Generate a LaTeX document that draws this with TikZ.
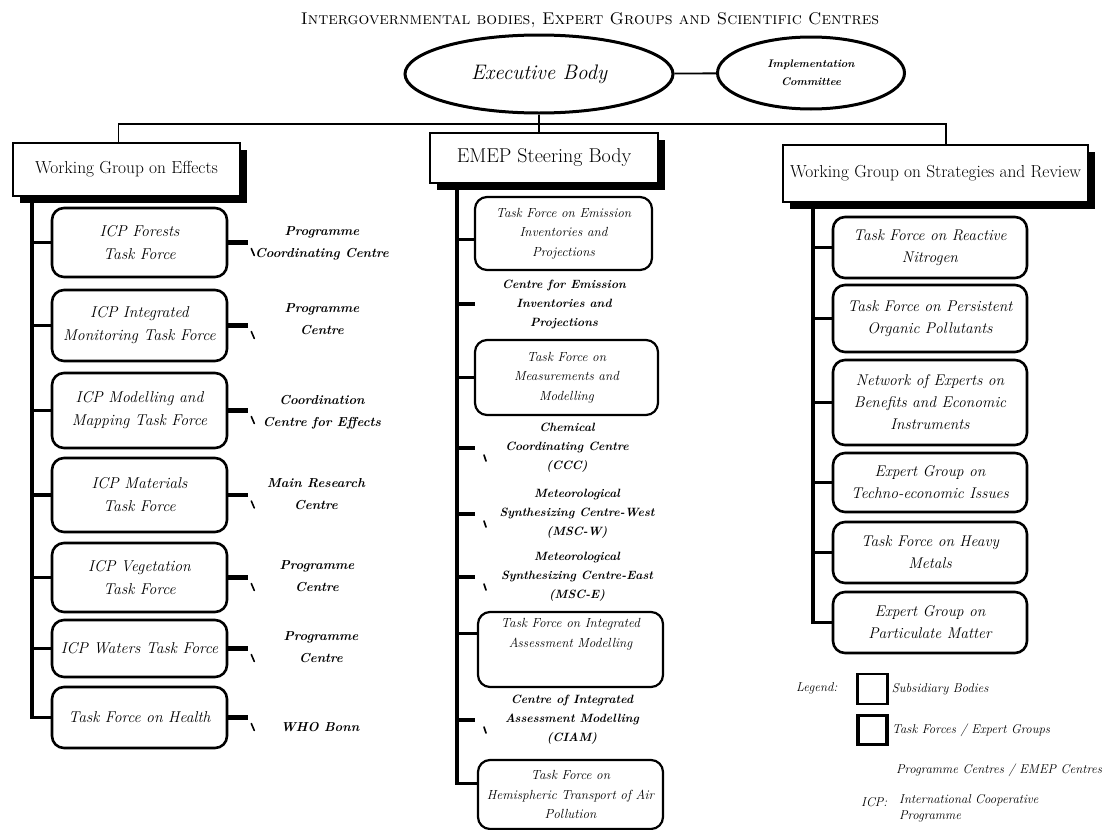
\documentclass[tikz,border=0pt]{standalone}
\usepackage{fontspec}
\usetikzlibrary{positioning, shapes.geometric, shadows}

\begin{document}
\begin{tikzpicture}[x = 1pt, y = -1pt,
		every node/.style = {
			inner sep = 1pt,
			align = center
		},
		body/.style = {
			draw = black,
			ellipse,
			line width = 3pt,
			inner sep = 0pt
		},
		group/.style = {
			draw = black,
			fill = white,
			line width = 2.4pt,
			font = \fontsize{17.4}{20}\selectfont,
			drop shadow = {shadow xshift = 7pt, shadow yshift = -7pt, fill = black, opacity = 1}
		},
		task/.style = {
			draw = black,
			fill = white,
			line width = 2.6pt,
			rounded corners = 12pt,
			minimum height = #1
		},
		ltask/.style = {task = #1, minimum width = 175pt, font = \itshape\fontsize{15.7}{23}\selectfont},
		mtask/.style = {task = #1, line width = 2.2pt, font = \itshape\fontsize{13.2}{19.5}\selectfont},
		rtask/.style = {task = #1, minimum width = 194pt, font = \itshape\fontsize{15.5}{22}\selectfont},
		lcentre/.style = {font = \bfseries\itshape\fontsize{13}{22}\selectfont},
		mcentre/.style = {font = \bfseries\itshape\fontsize{12}{19}\selectfont},
		legtext/.style = {font = \itshape\fontsize{12.8}{16}\selectfont, align = left},
		topline/.style = {line width = 1.8pt},
		trunk/.style = {line width = 3.6pt},
		stub/.style = {line width = 4.6pt},
		tick/.style = {line width = 1.6pt, line cap = round}
	]
	\useasboundingbox (0, 0) rectangle (1109, 830);
	\node[font = \scshape\fontsize{17}{19}\selectfont] (title) at (590, 20) {Intergovernmental bodies, Expert Groups and Scientific Centres};
	\node[body, minimum width = 268pt, minimum height = 78pt, font = \itshape\fontsize{21}{24}\selectfont] (exec) at (539, 74) {Executive Body};
	\node[body, minimum width = 187pt, minimum height = 72pt, font = \bfseries\itshape\fontsize{11}{18}\selectfont] (impl) at (811, 73) {Implementation\\Committee};
	\node[group, minimum width = 227pt, minimum height = 53pt] (wge) at (126.5, 169.5) {Working Group on Effects};
	\node[group, minimum width = 228pt, minimum height = 50pt, font = \fontsize{20}{22}\selectfont] (emep) at (544, 158) {EMEP Steering Body};
	\node[group, minimum width = 305pt, minimum height = 57pt] (wgsr) at (935.5, 173.5) {Working Group on Strategies and Review};
	\coordinate (hub) at (540, 124);
	\draw[topline] (exec) -- (impl);
	\draw[topline] (exec.south) -- (emep.north -| exec.south);
	\draw[topline] ([xshift = -8pt]wge.north) |- (hub) -| ([xshift = 10.5pt]wgsr.north);

	\node[ltask = 69pt] (forests) at (139.5, 242.5) {ICP Forests\\Task Force};
	\node[ltask = 71pt] (integrated) at (139.5, 325.5) {ICP Integrated\\Monitoring Task Force};
	\node[ltask = 75pt] (modelling) at (139.5, 410.5) {ICP Modelling and\\Mapping Task Force};
	\node[ltask = 74pt] (materials) at (139.5, 495) {ICP Materials\\Task Force};
	\node[ltask = 69pt] (vegetation) at (139.5, 577.5) {ICP Vegetation\\Task Force};
	\node[ltask = 57pt] (waters) at (139.5, 648.5) {ICP Waters Task Force};
	\node[ltask = 61pt] (health) at (139.5, 717.5) {Task Force on Health};
	\node[lcentre] (forestsc) at (322, 243) {Programme\\Coordinating Centre};
	\node[lcentre] (integratedc) at (322, 319) {Programme\\Centre};
	\node[lcentre] (modellingc) at (322, 412) {Coordination\\Centre for Effects};
	\node[lcentre] (materialsc) at (316, 494) {Main Research\\Centre};
	\node[lcentre] (vegetationc) at (317, 576) {Programme\\Centre};
	\node[lcentre] (watersc) at (321, 647) {Programme\\Centre};
	\node[lcentre] (healthc) at (320, 727) {WHO Bonn};
	\coordinate (ltop) at (32, 196);
	\draw[trunk] (ltop) |- (health.west);
	\foreach \n in {forests, integrated, modelling, materials, vegetation, waters}
		\draw[trunk] (\n.west -| ltop) -- (\n.west);
	\foreach \n in {forests, integrated, modelling, materials, vegetation, waters, health} {
		\draw[stub] (\n.east) -- ++(20, 0) coordinate (\n-end);
		\draw[tick] (\n-end) ++(3, 6) -- ++(3, 7);
	}

	\node[mtask = 73pt, minimum width = 177pt] (tfeip) at (563.5, 233.5) {Task Force on Emission\\Inventories and\\Projections};
	\node[mtask = 75pt, minimum width = 183pt] (tfmm) at (566.5, 377.5) {Task Force on\\Measurements and\\Modelling};
	\node[mtask = 75pt, minimum width = 185pt] (tfiam) at (570.5, 649.5) {Task Force on Integrated\\Assessment Modelling\\[14pt]};
	\node[mtask = 69pt, minimum width = 185pt] (tfhtap) at (570.5, 794.5) {Task Force on\\Hemispheric Transport of Air\\Pollution};
	\node[mcentre] (ceip) at (564, 304) {Centre for Emission\\Inventories and\\Projections};
	\node[mcentre] (ccc) at (567, 448) {Chemical\\Coordinating Centre\\(CCC)};
	\node[mcentre] (mscw) at (577, 514) {Meteorological\\Synthesizing Centre-West\\(MSC-W)};
	\node[mcentre] (msce) at (577, 577) {Meteorological\\Synthesizing Centre-East\\(MSC-E)};
	\node[mcentre] (ciam) at (572, 720) {Centre of Integrated\\Assessment Modelling\\(CIAM)};
	\coordinate (mtop) at (457, 183);
	\draw[trunk] (mtop) |- ([yshift = 11pt]tfhtap.west);
	\foreach \n/\s in {tfeip/-6, tfmm/0, tfiam/16}
		\draw[trunk] ([yshift = \s pt]\n.west -| mtop) -- ([yshift = \s pt]\n.west);
	\foreach \n in {ceip, ccc, mscw, msce, ciam}
		\draw[stub] (\n.west -| mtop) -- ++(18, 0);
	\foreach \n in {ccc, mscw, msce, ciam}
		\draw[tick] (\n.west -| mtop) ++(27, 7) -- ++(2, 6);

	\node[rtask = 61pt] (reactn) at (930, 247.5) {Task Force on Reactive\\Nitrogen};
	\node[rtask = 67pt] (pops) at (930, 318.5) {Task Force on Persistent\\Organic Pollutants};
	\node[rtask = 85pt] (network) at (930, 402.5) {Network of Experts on\\Benefits and Economic\\Instruments};
	\node[rtask = 59pt] (techno) at (930, 482.5) {Expert Group on\\Techno-economic Issues};
	\node[rtask = 61pt] (metals) at (930, 552.5) {Task Force on Heavy\\Metals};
	\node[rtask = 61pt] (pm) at (930, 622.5) {Expert Group on\\Particulate Matter};
	\coordinate (rtop) at (813, 202);
	\draw[trunk] (rtop) |- (pm.west);
	\foreach \n in {reactn, pops, network, techno, metals}
		\draw[trunk] (\n.west -| rtop) -- (\n.west);

	\node[legtext, anchor = west] (legend) at (795, 688) {Legend:};
	\node[draw = black, line width = 2.4pt, minimum size = 30pt] (keysub) at (872.5, 689) {};
	\node[draw = black, line width = 3.6pt, minimum size = 29pt] (keytf) at (872.5, 730) {};
	\node[legtext, right = 2pt of keysub] (keysubt) {Subsidiary Bodies};
	\node[legtext, right = 2pt of keytf] (keytft) {Task Forces / Expert Groups};
	\node[legtext, anchor = west] (keyctr) at (895, 770) {Programme Centres / EMEP Centres};
	\node[legtext, anchor = west] (keyicp) at (860, 802) {ICP:};
	\node[legtext, anchor = north west] (keyicpt) at (898, 793) {International Cooperative\\Programme};
\end{tikzpicture}
\end{document}
